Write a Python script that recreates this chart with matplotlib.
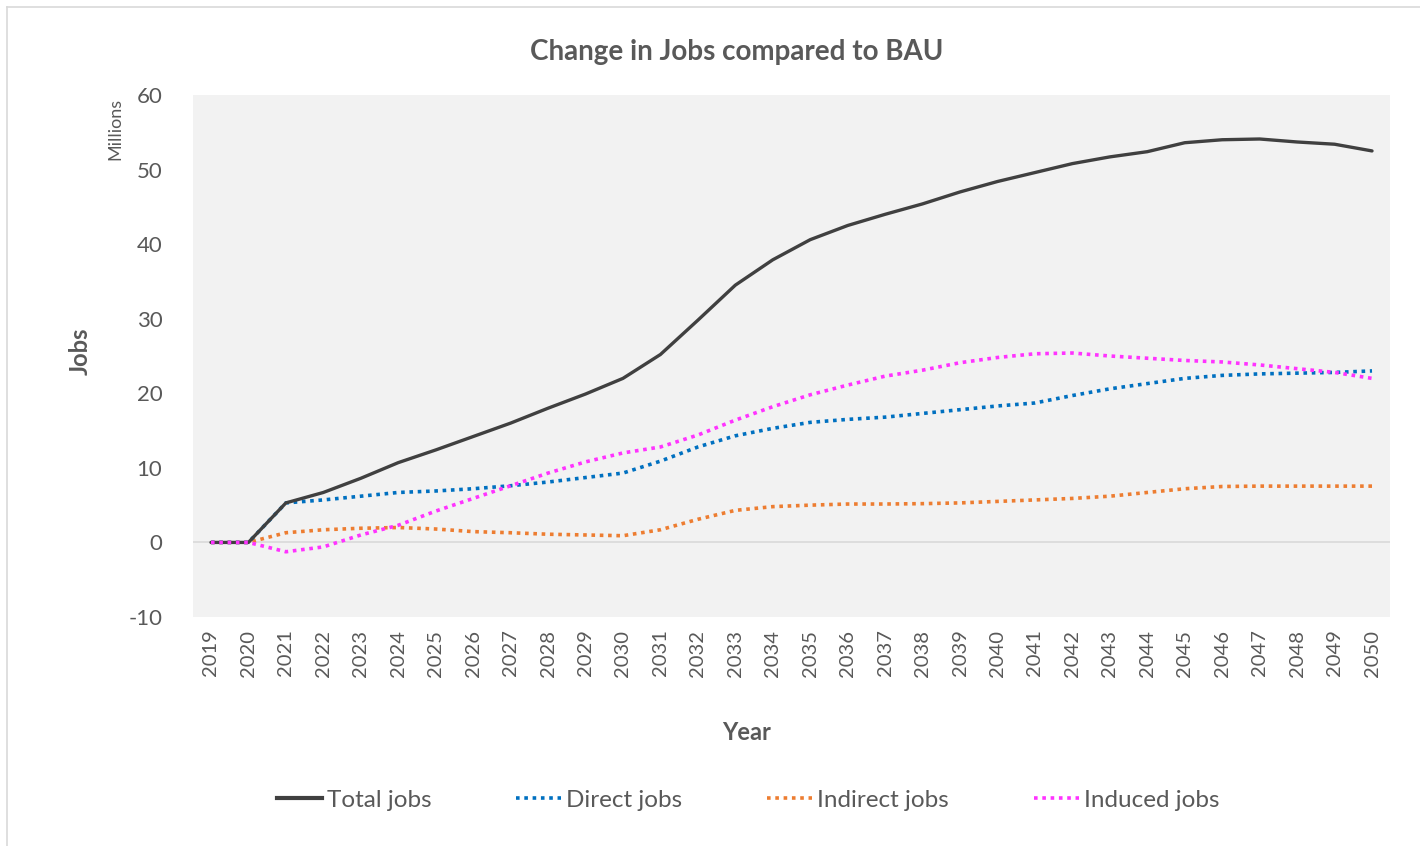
import numpy as np
import matplotlib.pyplot as plt
from matplotlib.lines import Line2D

years = list(range(2019, 2051))

total_jobs = [0, 0, 5.3, 6.7, 8.6, 10.7, 12.4, 14.2, 16.0, 18.0, 19.9, 22.0,
              25.2, 29.8, 34.5, 37.9, 40.6, 42.5, 44.0, 45.4, 47.0, 48.4,
              49.6, 50.8, 51.7, 52.4, 53.6, 54.0, 54.1, 53.7, 53.4, 52.5]
direct_jobs = [0, 0, 5.3, 5.7, 6.2, 6.7, 6.9, 7.2, 7.6, 8.1, 8.7, 9.3,
               10.9, 12.8, 14.3, 15.3, 16.1, 16.5, 16.8, 17.3, 17.8, 18.3,
               18.7, 19.7, 20.6, 21.3, 22.0, 22.4, 22.6, 22.7, 22.8, 23.0]
indirect_jobs = [0, 0, 1.3, 1.7, 1.9, 2.0, 1.8, 1.45, 1.3, 1.1, 1.0, 0.9,
                 1.7, 3.1, 4.3, 4.8, 5.0, 5.15, 5.15, 5.2, 5.3, 5.5,
                 5.7, 5.9, 6.2, 6.7, 7.2, 7.5, 7.55, 7.55, 7.55, 7.55]
induced_jobs = [0, 0, -1.25, -0.6, 1.0, 2.3, 4.2, 5.9, 7.6, 9.3, 10.8, 12.0,
                12.8, 14.4, 16.4, 18.2, 19.8, 21.1, 22.3, 23.1, 24.1, 24.8,
                25.3, 25.4, 25.0, 24.7, 24.4, 24.2, 23.8, 23.3, 22.8, 22.0]

series_names = ['Total jobs', 'Direct jobs', 'Indirect jobs', 'Induced jobs']
colors = ['#404040', '#0070c0', '#ed7d31', '#ff33ff']

plt.rcParams['font.family'] = ['Lato', 'DejaVu Sans']
plt.rcParams['axes.unicode_minus'] = False
txt = '#595959'

fig = plt.figure(figsize=(14.2, 8.46), dpi=100)
ax = fig.add_axes([193/1420, 1-617/846, (1390-193)/1420, (617-95)/846])
ax.set_facecolor('#f2f2f2')

ax.axhline(0, color='#d9d9d9', lw=1.2, zorder=1)

dots = (0, (1, 1.3))
ax.plot(years, indirect_jobs, color=colors[2], lw=2.6, ls=dots, zorder=3)
ax.plot(years, direct_jobs, color=colors[1], lw=2.6, ls=dots, zorder=4)
ax.plot(years, total_jobs, color=colors[0], lw=2.4, solid_capstyle='round', zorder=5)
ax.plot(years, induced_jobs, color=colors[3], lw=2.6, ls=dots, zorder=6)

ax.set_xlim(2018.52, 2050.48)
ax.set_ylim(-10, 60)
ax.set_yticks(range(-10, 61, 10))
ax.set_xticks(years)
ax.set_xticklabels([str(y) for y in years], rotation=90)
for s in ax.spines.values():
    s.set_visible(False)
ax.tick_params(axis='y', length=0, pad=22, labelsize=16, labelcolor=txt)
ax.tick_params(axis='x', length=0, pad=9, labelsize=14.5, labelcolor=txt)

fig.text(737/1420, 1-52/846, 'Change in Jobs compared to BAU', fontsize=20,
         fontweight='bold', color=txt, ha='center', va='center')
ax.set_ylabel('Jobs', fontsize=17, fontweight='bold', color=txt)
ax.yaxis.set_label_coords((92-193)/1197, (617-351)/522)
ax.set_xlabel('Year', fontsize=17, fontweight='bold', color=txt)
ax.xaxis.set_label_coords((747-193)/1197, -(721-617)/522)
fig.text(115/1420, 1-129/846, 'Millions', rotation=90, fontsize=13,
         color=txt, ha='center', va='center')

handles = [Line2D([], [], color=colors[0], lw=3),
           Line2D([], [], color=colors[1], lw=2.6, ls=dots),
           Line2D([], [], color=colors[2], lw=2.6, ls=dots),
           Line2D([], [], color=colors[3], lw=2.6, ls=dots)]
leg = fig.legend(handles, series_names, loc='center', ncol=4,
                 bbox_to_anchor=(748/1420, 1-800/846), frameon=False,
                 fontsize=17.5, handlelength=1.85, handletextpad=0.2,
                 columnspacing=3.5)
for t in leg.get_texts():
    t.set_color(txt)

# chart border (top/left visible in the screenshot)
fig.add_artist(Line2D([7/1420, 1], [1-7/846, 1-7/846], color='#d9d9d9', lw=1.2))
fig.add_artist(Line2D([7/1420, 7/1420], [0, 1-7/846], color='#d9d9d9', lw=1.2))

fig.savefig('out.png', dpi=100, facecolor='white')
